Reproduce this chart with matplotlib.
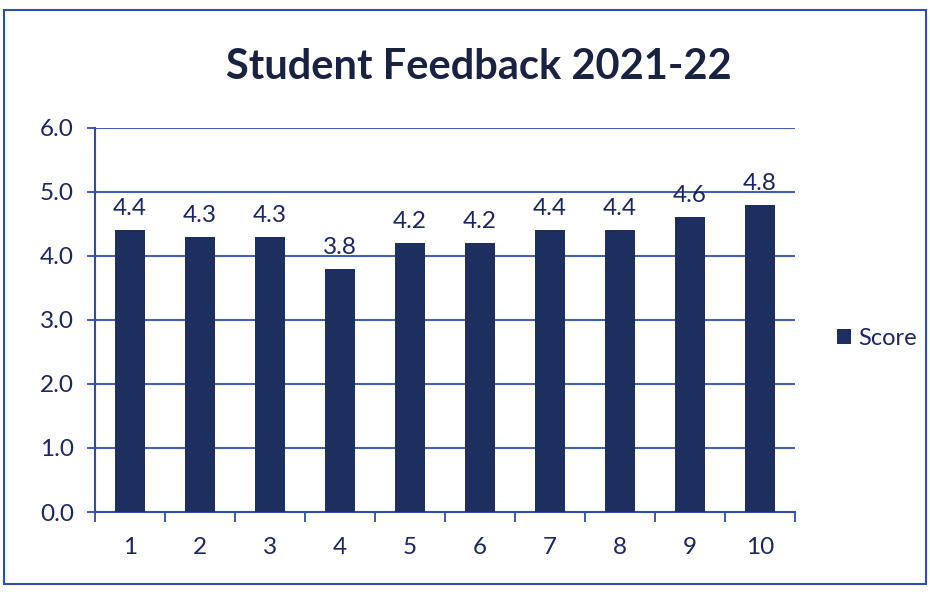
import matplotlib
matplotlib.use("Agg")
import matplotlib.pyplot as plt
from matplotlib.patches import Rectangle
import numpy as np

categories = ["1", "2", "3", "4", "5", "6", "7", "8", "9", "10"]
scores = [4.4, 4.3, 4.3, 3.8, 4.2, 4.2, 4.4, 4.4, 4.6, 4.8]
yticks = [0.0, 1.0, 2.0, 3.0, 4.0, 5.0, 6.0]

bar_color = "#1d2f5f"
grid_color = "#2c4fae"
text_color = "#1a2766"

plt.rcParams['font.family'] = ['Lato', 'DejaVu Sans']

fig = plt.figure(figsize=(9.3, 5.94), dpi=100)
fig.patch.set_facecolor("white")
ax = fig.add_axes([0.102, 0.138, 0.753, 0.647])

x = np.arange(len(categories))
bars = ax.bar(x, scores, width=0.42, color=bar_color, label="Score", zorder=3)
for xi, v in zip(x, scores):
    ax.text(xi, v + 0.17, f"{v:.1f}", ha="center", va="bottom",
            fontsize=17.5, color=text_color, zorder=4)

ax.set_ylim(0, 6)
ax.set_xlim(-0.5, len(categories) - 0.5)
ax.set_yticks(yticks)
ax.set_yticklabels([f"{t:.1f}" for t in yticks], fontsize=17.5, color=text_color)
ax.set_xticks(x)
ax.set_xticklabels(categories, fontsize=17.5, color=text_color)
ax.set_xticks(np.arange(-0.5, len(categories)), minor=True)
ax.tick_params(axis="x", which="major", length=0, pad=18)
ax.tick_params(axis="x", which="minor", length=7, width=1.3, color=grid_color, direction="out")
ax.tick_params(axis="y", length=6, width=1.3, color=grid_color, direction="out", pad=9)

ax.yaxis.grid(True, color=grid_color, linewidth=1.3, zorder=1)
ax.set_axisbelow(True)
for s in ["top", "right"]:
    ax.spines[s].set_visible(False)
ax.spines["left"].set_color(grid_color)
ax.spines["left"].set_linewidth(1.5)
ax.spines["bottom"].set_color(grid_color)
ax.spines["bottom"].set_linewidth(1.5)

fig.text(0.515, 0.888, "Student Feedback 2021-22", ha="center", va="center",
         fontsize=30, fontweight="bold", color="#1a2244")

leg = fig.legend(handles=[bars], labels=["Score"], loc="center left",
                 bbox_to_anchor=(0.877, 0.43), frameon=False, fontsize=17,
                 handlelength=0.6, handleheight=0.6, handletextpad=0.3)
for t in leg.get_texts():
    t.set_color(text_color)

fig.patches.append(Rectangle((0.004, 0.017), 0.992, 0.966, transform=fig.transFigure,
                             fill=False, edgecolor=grid_color, linewidth=1.5))

fig.savefig("out.png", dpi=100)
